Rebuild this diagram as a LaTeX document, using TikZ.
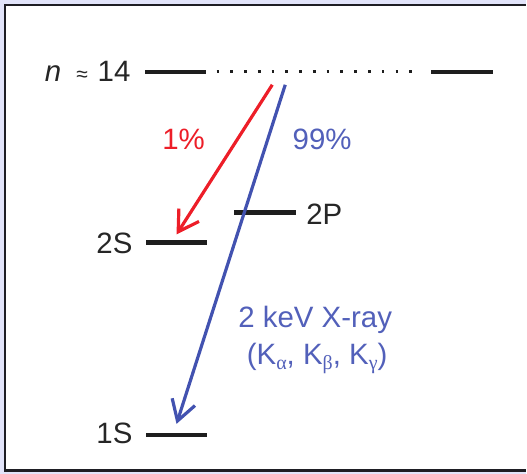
\documentclass[tikz,border=0pt]{standalone}
\usepackage{fontspec}
\setmainfont{Liberation Sans}
\newfontfamily\greekfont{Liberation Serif}
\usetikzlibrary{arrows.meta,positioning}
\definecolor{lavender}{RGB}{226,228,250}
\definecolor{framegray}{RGB}{30,30,36}
\definecolor{levelgray}{RGB}{30,30,30}
\definecolor{decayred}{RGB}{237,30,40}
\definecolor{decayblue}{RGB}{66,82,176}
\definecolor{textblue}{RGB}{82,96,186}
\newcommand{\Ksub}[1]{K\raisebox{-5pt}{\fontsize{20}{20}\selectfont\greekfont #1}}
\tikzset{
  level/.style={rectangle,fill=levelgray,inner sep=0pt,minimum width=62pt,minimum height=4.4pt},
  lbl/.style={inner sep=0pt,font=\fontsize{29.5}{35}\selectfont,text=black!85},
  arr/.style={-{Straight Barb[length=20pt,width=24pt]},line width=3.2pt},
  redarr/.style={arr,draw=decayred},
  bluearr/.style={arr,draw=decayblue},
  dotline/.style={draw=levelgray,line width=2.8pt,dash pattern=on 2.6pt off 11.2pt,shorten <=10pt,shorten >=8pt}
}

\begin{document}
\begin{tikzpicture}[x=1pt,y=-1pt]
  % frame
  \fill[lavender] (0,0) rectangle (527,475);
  \fill[white] (5,5) rectangle (527,472);
  \draw[framegray,line width=2.8pt] (527,5) -- (5,5) -- (5,472) -- (527,472);

  % energy levels
  \node[level] (ntop) at (176,72) {};
  \node[level] (ntopr) at (463,72) {};
  \node[level] (p2) at (266,213) {};
  \node[level] (s2) at (177,243) {};
  \node[level] (s1) at (177,436) {};
  \draw[dotline] (ntop.east) -- (ntopr.west);

  \node[lbl,anchor=base east] (nlabel) at (131,82)
    {\itshape n\upshape\hspace{15pt}{\fontsize{21}{21}\selectfont ≈}\hspace{10pt}14};
  \node[lbl,anchor=base east] (s2label) at (133,254) {2S};
  \node[lbl,anchor=base west] (p2label) at (307,225) {2P};
  \node[lbl,anchor=base east] (s1label) at (133,445) {1S};

  % transitions
  \coordinate (redtop) at (273,85);
  \coordinate (redend) at (177,235);
  \coordinate (bluetop) at (286,85);
  \coordinate (blueend) at (177,425);
  \draw[redarr] (redtop) -- (redend);
  \draw[bluearr] (bluetop) -- (blueend);

  \node[lbl,text=decayred,anchor=base] (redpct) at (184,150) {1\%};
  \node[lbl,text=textblue,anchor=base] (bluepct) at (323,150) {99\%};
  \node[lbl,text=textblue,anchor=base] (xray) at (316,328) {2 keV X-ray};
  \node[lbl,text=textblue,anchor=base] (klines) at (318,365) {(\Ksub{α}, \Ksub{β}, \Ksub{γ})};
\end{tikzpicture}
\end{document}
